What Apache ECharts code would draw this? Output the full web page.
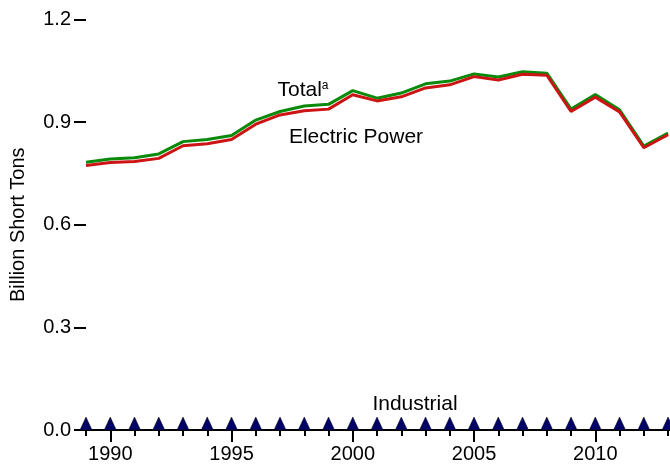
<!DOCTYPE html>
<html>
<head>
<meta charset="utf-8">
<script src="https://cdn.jsdelivr.net/npm/echarts@6/dist/echarts.min.js"></script>
<style>
  html, body { margin: 0; padding: 0; background: #fff; }
  #main { width: 670px; height: 470px; }
</style>
</head>
<body>
<div id="main"></div>
<script>
// data (billion short tons)
var years = [1989, 1990, 1991, 1992, 1993, 1994, 1995, 1996, 1997, 1998, 1999, 2000,
    2001, 2002, 2003, 2004, 2005, 2006, 2007, 2008, 2009, 2010, 2011, 2012, 2013];
var total = [0.783, 0.792, 0.796, 0.807, 0.843, 0.849, 0.861, 0.906, 0.931, 0.947, 0.952, 0.992,
    0.970, 0.985, 1.012, 1.020, 1.041, 1.032, 1.047, 1.043, 0.938, 0.981, 0.936, 0.830, 0.868];
var electric = [0.773, 0.782, 0.785, 0.794, 0.831, 0.837, 0.849, 0.894, 0.921, 0.933, 0.938, 0.980,
    0.962, 0.974, 1.000, 1.009, 1.033, 1.023, 1.040, 1.037, 0.931, 0.973, 0.930, 0.825, 0.863];
var industrial = [0, 0, 0, 0, 0, 0, 0, 0, 0, 0, 0, 0,
    0, 0, 0, 0, 0, 0, 0, 0, 0, 0, 0, 0, 0];
var yearLabels = [1990, 1995, 2000, 2005, 2010];

var font = 'Liberation Sans, Arial, Helvetica, sans-serif';

function pairs(vals) {
    return years.map(function (y, i) { return [y, vals[i]]; });
}

// the reference is cut off just after 2013
var xMin = 1989, xMax = 2013.08;

var myChart = echarts.init(document.getElementById('main'));
var option = {
    animation: false,
    grid: { left: 85, top: 19.5, right: 0, bottom: 40 },
    xAxis: [
        {
            type: 'value',
            min: xMin,
            max: xMax,
            position: 'bottom',
            splitLine: { show: false },
            axisLine: { show: true, onZero: false, lineStyle: { color: '#000', width: 2 } },
            axisTick: { show: true, length: 12, lineStyle: { color: '#000', width: 2 }, customValues: yearLabels },
            axisLabel: {
                customValues: yearLabels, color: '#000', fontSize: 20, fontFamily: font, margin: 14,
                formatter: function (v) { return String(v); }
            }
        },
        {
            // yearly ticks
            type: 'value',
            min: xMin,
            max: xMax,
            position: 'bottom',
            offset: 0,
            splitLine: { show: false },
            axisLine: { show: false },
            axisTick: { show: true, length: 6, lineStyle: { color: '#000', width: 2 }, customValues: years },
            axisLabel: { show: false }
        }
    ],
    yAxis: {
        type: 'value',
        min: 0,
        max: 1.2,
        interval: 0.3,
        name: 'Billion Short Tons',
        nameLocation: 'middle',
        nameGap: 58,
        nameTextStyle: { color: '#000', fontSize: 20, fontFamily: font },
        splitLine: { show: false },
        axisLine: { show: false },
        axisTick: { show: true, length: 12, lineStyle: { color: '#000', width: 2 } },
        axisLabel: {
            color: '#000', fontSize: 20, fontFamily: font, margin: 15,
            formatter: function (v) { return v.toFixed(1); }
        }
    },
    series: [
        {
            name: 'Total',
            type: 'line',
            data: pairs(total),
            showSymbol: false,
            lineStyle: { color: '#0a8a0a', width: 3 },
            z: 3
        },
        {
            name: 'Electric Power',
            type: 'line',
            data: pairs(electric),
            showSymbol: false,
            lineStyle: { color: '#cc1414', width: 3 },
            z: 4
        },
        {
            name: 'Industrial',
            type: 'line',
            data: pairs(industrial),
            symbol: 'triangle',
            symbolSize: [12, 13],
            symbolOffset: [0, -6.5],
            showSymbol: true,
            itemStyle: { color: '#000066', borderColor: '#000', borderWidth: 0.5 },
            lineStyle: { opacity: 0 },
            z: 5
        }
    ],
    graphic: [
        {
            type: 'text', x: 303, y: 90,
            style: {
                text: '{m|Total}{s|a}',
                align: 'center', verticalAlign: 'middle',
                rich: {
                    m: { fontSize: 21, fontFamily: font, fill: '#000' },
                    s: { fontSize: 12, fontFamily: font, fill: '#000', verticalAlign: 'top', padding: [0, 0, 8, 0] }
                }
            }
        },
        {
            type: 'text', x: 356, y: 137,
            style: { text: 'Electric Power', fontSize: 21, fontFamily: font, fill: '#000', align: 'center', verticalAlign: 'middle' }
        },
        {
            type: 'text', x: 415, y: 404,
            style: { text: 'Industrial', fontSize: 21, fontFamily: font, fill: '#000', align: 'center', verticalAlign: 'middle' }
        }
    ]
};
myChart.setOption(option);
</script>
</body>
</html>
